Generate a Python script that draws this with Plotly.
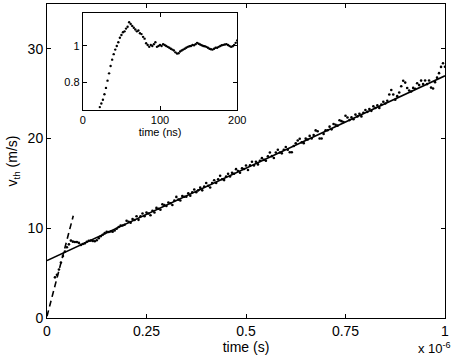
import plotly.graph_objects as go

# main trace: v_th sampled every 5 ns starting at 20 ns (time in units of 1e-6 s)
t0_main = 0.02
dt_main = 0.005
v_main = [
    4.53, 4.81, 5.41, 6.19, 6.90, 7.40, 7.88, 8.21, 8.63, 8.51,
    8.47, 8.47, 8.37, 8.15, 8.25, 8.32, 8.50, 8.60, 8.63, 8.59,
    8.56, 8.67, 8.90, 9.12, 9.28, 9.46, 9.60, 9.59, 9.65, 9.62,
    9.75, 9.94, 10.15, 10.31, 10.31, 10.40, 10.84,
    10.72, 10.63, 11.03, 10.93, 11.34, 10.94, 11.34, 11.64, 11.35, 11.75,
    11.65, 11.46, 11.96, 11.76, 12.27, 12.17, 12.07, 12.67, 12.58, 12.48,
    12.88, 12.79, 12.59, 13.09, 13.50, 13.20, 13.10, 13.60, 13.51, 13.51,
    13.91, 13.62, 14.02, 14.32, 14.03, 14.23, 14.53, 14.23, 14.64, 15.04,
    14.74, 14.55, 15.05, 15.35, 15.06, 15.46, 15.86, 15.46, 15.37, 15.77,
    16.07, 15.78, 16.18, 16.08, 16.59, 16.39, 16.19, 16.69, 16.60, 17.00,
    16.50, 17.01, 17.41, 17.01, 17.42, 17.12, 17.52, 17.82, 17.63, 17.53,
    18.03, 18.44, 18.04, 17.84, 18.45, 18.75, 18.45, 18.35, 18.76, 19.06,
    18.76, 18.47, 18.47, 19.17, 19.48, 19.78, 19.98, 19.58, 19.49, 19.99,
    19.89, 20.30, 20.00, 20.40, 20.91, 20.81, 20.01, 20.01, 20.52, 20.92,
    20.92, 21.33, 21.03, 21.63, 21.54, 21.44, 22.04, 21.94, 21.85, 22.55,
    22.35, 22.06, 22.36, 22.16, 22.67, 22.47, 22.77, 22.47, 22.88, 23.18,
    22.98, 23.29, 23.09, 23.59, 23.40, 23.70, 23.40, 23.80, 24.11, 23.91,
    24.21, 24.92, 25.42, 24.92, 24.33, 24.73, 25.13, 25.83, 26.44, 26.24,
    25.64, 25.35, 25.25, 25.65, 25.56, 26.16, 25.96, 26.46, 26.07, 26.47,
    26.07, 26.48, 25.68, 25.58, 26.29, 26.79, 27.29, 27.99, 28.40, 28.00,
]
t_main = [t0_main + i * dt_main for i in range(len(v_main))]

# linear fits (end points)
fit_t = [0, 1]
fit_v = [6.4, 27.0]
early_t = [0, 0.066]
early_v = [0.2, 11.4]

# inset: normalised v_th every 2 ns from 22 ns
t0_ins = 22
dt_ins = 2
r_ins = [
    0.665, 0.685, 0.705, 0.735, 0.77, 0.81, 0.85, 0.89, 0.925, 0.955,
    0.98, 1.0, 1.02, 1.045, 1.06, 1.075, 1.08, 1.095, 1.105, 1.13,
    1.12, 1.11, 1.10, 1.09, 1.08, 1.085, 1.07, 1.065, 1.05, 1.04,
    1.015, 1.005, 0.995, 1.005, 1.0, 1.01, 1.02, 0.995, 1.0, 1.005,
    1.0, 1.01, 1.005, 1.0, 0.995, 0.99, 0.985, 0.98, 0.975, 0.965,
    0.958, 0.96, 0.97, 0.975, 0.98, 0.985, 0.99, 0.995, 0.998, 1.0,
    1.005, 1.004, 1.01, 1.017, 1.012, 1.008, 1.004, 1.0, 0.998, 0.995,
    0.99, 0.985, 0.982, 0.98, 0.985, 0.99, 0.99, 0.995, 1.0, 1.004,
    1.006, 1.008, 1.01, 1.005, 1.0, 0.995, 0.998, 1.005, 1.017, 1.03,
]
t_ins = [t0_ins + i * dt_ins for i in range(len(r_ins))]

x_ticks = [0, 0.25, 0.5, 0.75, 1]
x_ticktext = ['0', '0.25', '0.5', '0.75', '1']

font = 'Liberation Sans, Arial, sans-serif'

fig = go.Figure()

fig.add_trace(go.Scatter(x=t_main, y=v_main, mode='markers',
                         marker=dict(color='black', size=2.6), showlegend=False))
fig.add_trace(go.Scatter(x=fit_t, y=fit_v, mode='lines',
                         line=dict(color='black', width=1.6), showlegend=False))
fig.add_trace(go.Scatter(x=early_t, y=early_v, mode='lines',
                         line=dict(color='black', width=1.6, dash='6px,4px'), showlegend=False))
fig.add_trace(go.Scatter(x=t_ins, y=r_ins, mode='markers', xaxis='x2', yaxis='y2',
                         marker=dict(color='black', size=2.4), showlegend=False))

axis_common = dict(showgrid=False, zeroline=False, showline=True, linecolor='black',
                   linewidth=1, mirror='ticks', ticks='inside', tickcolor='black',
                   ticklen=4)

fig.update_layout(
    width=457, height=358,
    margin=dict(l=47, r=8, t=3, b=40),
    paper_bgcolor='white', plot_bgcolor='white',
    font=dict(family=font, size=14, color='black'),
    xaxis=dict(axis_common, range=[0, 1], tickvals=x_ticks, ticktext=x_ticktext,
               title=dict(text='time (s)', standoff=0, font=dict(size=14))),
    yaxis=dict(axis_common, range=[0, 35], tickvals=[0, 10, 20, 30],
               title=dict(text='v<sub>th</sub> (m/s)', standoff=6, font=dict(size=14))),
    xaxis2=dict(axis_common, domain=[0.09, 0.478], anchor='y2', range=[0, 200],
                tickvals=[0, 100, 200], tickfont=dict(size=11),
                title=dict(text='time (ns)', standoff=0, font=dict(size=11))),
    yaxis2=dict(axis_common, domain=[0.663, 0.971], anchor='x2', range=[0.65, 1.18],
                tickvals=[0.8, 1], ticktext=['0.8', '1'], tickfont=dict(size=11)),
    annotations=[dict(text='x 10<sup>-6</sup>', xref='paper', yref='paper',
                      x=1.02, y=-0.096, xanchor='right', yanchor='middle',
                      showarrow=False, font=dict(size=13))],
)

fig.write_html("out.html", config={'displayModeBar': False},
               post_script="document.body.style.margin='0';")
